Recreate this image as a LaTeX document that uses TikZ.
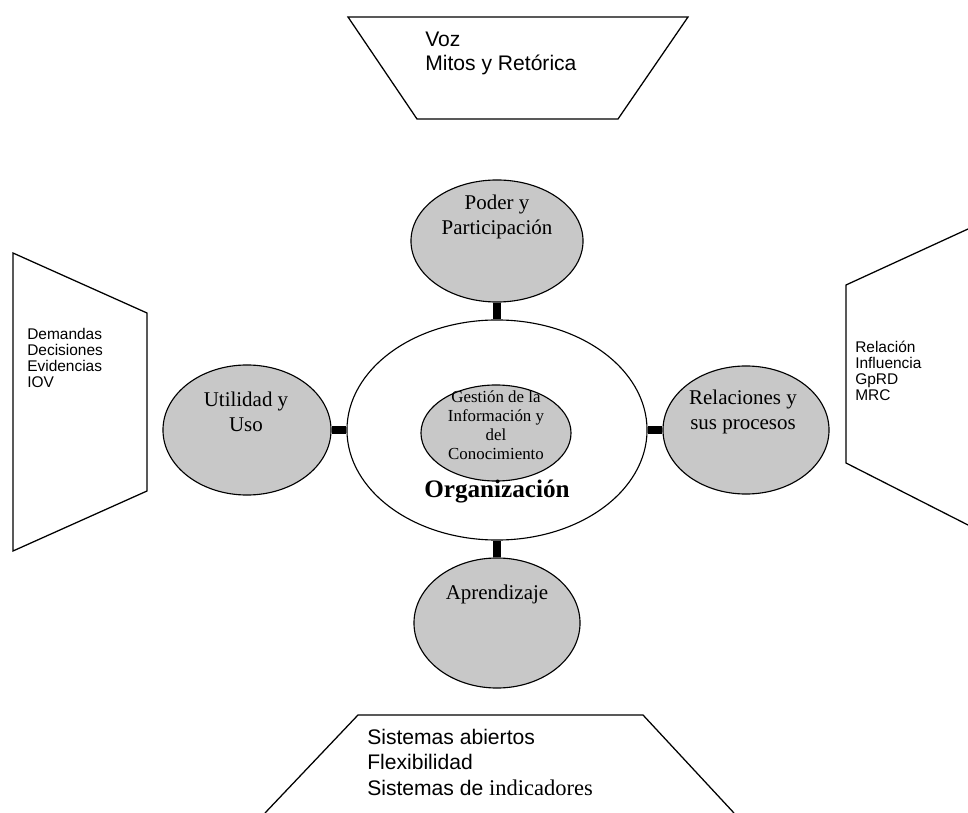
\documentclass[tikz,border=0pt]{standalone}
\usepackage{fontspec}
\setmainfont{Liberation Serif}
\setsansfont{Liberation Sans}
\usetikzlibrary{shapes.geometric}
\definecolor{topicgray}{RGB}{200,200,200}
\tikzset{
	topic/.style={ellipse,draw,fill=topicgray,line width=0.8pt,inner sep=0pt,minimum width=4.15cm,minimum height=3.2cm},
	topictext/.style={align=center,inner sep=0pt,font=\fontsize{14.9}{17.7}\selectfont},
	bar/.style={line width=5pt},
	frame/.style={line width=0.9pt,line join=miter},
	boxtext/.style={align=left,anchor=north west,inner sep=0pt,font=\sffamily\fontsize{15}{17.2}\selectfont},
	sidetext/.style={align=left,anchor=north west,inner sep=0pt,font=\sffamily\fontsize{11}{11.3}\selectfont}
}

\begin{document}
\begin{tikzpicture}[x=0.025cm,y=-0.025cm]
	\useasboundingbox (0,0) rectangle (968,813);

	% outer frames
	\draw[frame] (348,17)--(688,17)--(618,119)--(417,119)--cycle;
	\draw[frame] (13,253)--(147,313)--(147,491)--(13,551)--cycle;
	\draw[frame] (968,229)--(846,285)--(846,463)--(968,525);
	\draw[frame] (265,813)--(358,715)--(643,715)--(734,813);

	\node[boxtext] (voz) at (425,32) {Voz\\Mitos y Retórica};
	\node[sidetext] (dem) at (27,328) {Demandas\\Decisiones\\Evidencias\\IOV};
	\node[sidetext] (rel) at (855,341) {Relación\\Influencia\\GpRD\\MRC};
	\node[boxtext,font=\sffamily\fontsize{15}{18}\selectfont] (sis) at (367,729) {Sistemas abiertos\\Flexibilidad\\Sistemas de {\rmfamily\fontsize{16}{18}\selectfont indicadores}};

	% centre
	\node[ellipse,draw,line width=0.8pt,inner sep=0pt,minimum width=7.5cm,minimum height=5.5cm] (org) at (497,430) {};
	\node[topic,minimum width=3.75cm,minimum height=2.4cm] (gic) at (496,433) {};
	\node[topictext,font=\fontsize{12}{13.6}\selectfont] at (496,425) {Gestión de la\\Información y\\del\\Conocimiento};
	\node[inner sep=0pt,font=\bfseries\fontsize{17.9}{20}\selectfont] (orgtext) at (497,492) {Organización};

	% topics
	\node[topic,minimum width=4.3cm,minimum height=3.05cm] (poder) at (497,241) {};
	\node[topic,minimum width=4.2cm,minimum height=3.25cm] (util) at (247,430) {};
	\node[topic] (relac) at (746,430) {};
	\node[topic,minimum height=3.25cm] (apren) at (497,623) {};

	\node[topictext] at (497,217) {Poder y\\Participación};
	\node[topictext] at (246,412) {Utilidad y\\Uso};
	\node[topictext] at (743,412) {Relaciones y\\sus procesos};
	\node[topictext] at (497,594) {Aprendizaje};

	\draw[bar] (poder) -- (org);
	\draw[bar] (util) -- (org);
	\draw[bar] (relac) -- (org);
	\draw[bar] (apren) -- (org);
\end{tikzpicture}
\end{document}
